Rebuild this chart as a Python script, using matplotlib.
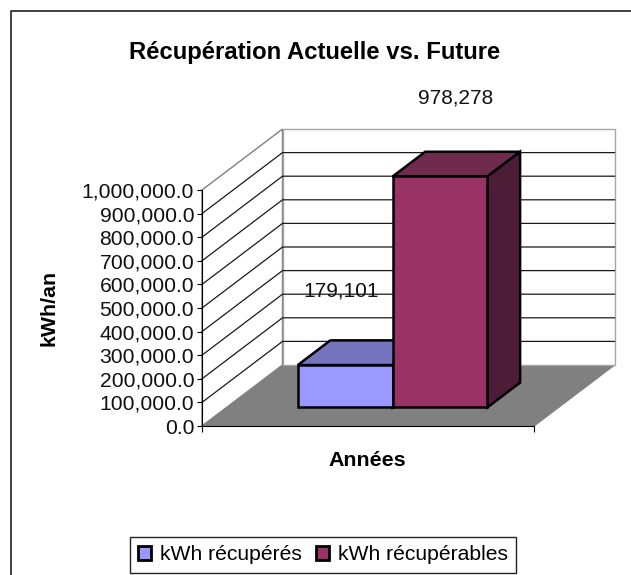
import matplotlib
matplotlib.use("Agg")
import matplotlib.pyplot as plt
from matplotlib.lines import Line2D
from matplotlib.patches import Polygon, Rectangle

plt.rcParams["font.family"] = ["Liberation Sans", "DejaVu Sans"]

# valeurs
series_names = ["kWh récupérés", "kWh récupérables"]
series_values = [179101, 978278]
value_labels = ["179,101", "978,278"]
y_ticks = [0, 100000, 200000, 300000, 400000, 500000, 600000, 700000, 800000, 900000, 1000000]

face_colors = ["#9999FF", "#993366"]
top_colors = ["#7575BF", "#702A4E"]
side_colors = ["#5A5A99", "#4D1C36"]

W, H = 631, 575
YMAX = 1000000
# projection oblique : decalage par unite de profondeur (axes x / valeurs)
DX = 80.5 / 332
DY = 61 / 236 * YMAX
BAR_W = 0.2857
D0, D1 = 0.306, 0.711

fig = plt.figure(figsize=(W / 100, H / 100), dpi=100)
ax = fig.add_axes([202 / W, 1 - 426 / H, 332 / W, 236 / H])
ax.set_xlim(0, 1)
ax.set_ylim(0, YMAX)
ax.patch.set_visible(False)


def proj(x, v, d=0):
    return (x + d * DX, v + d * DY)


def poly(points, **kw):
    ax.add_patch(Polygon(points, closed=True, clip_on=False, **kw))


# cadre exterieur (haut et gauche seulement)
fig.add_artist(Line2D([10.5 / W, 10.5 / W, 1], [0, 1 - 11 / H, 1 - 11 / H], color="#222222", lw=1.2, zorder=-1))

# plancher et murs
poly([proj(0, 0), proj(1, 0), proj(1, 0, 1), proj(0, 0, 1)], fc="#808080", ec="#808080", lw=1, zorder=1)
poly([proj(0, 0), proj(0, YMAX), proj(0, YMAX, 1), proj(0, 0, 1)], fc="white", ec="#808080", lw=1, zorder=1)
poly([proj(0, 0, 1), proj(0, YMAX, 1), proj(1, YMAX, 1), proj(1, 0, 1)], fc="white", ec="#A6A6A6", lw=1, zorder=1)

# lignes de grille
for v in y_ticks[1:-1]:
    pts = [proj(0, v), proj(0, v, 1), proj(1, v, 1)]
    ax.plot(*zip(*pts), color="#1A1A1A", lw=0.9, clip_on=False, zorder=2)

# barres
for i, val in enumerate(series_values):
    x0 = 0.5 - BAR_W + i * BAR_W
    x1 = x0 + BAR_W
    kw = dict(ec="black", lw=1.8, joinstyle="miter", zorder=3 + i)
    poly([proj(x0, val, D0), proj(x1, val, D0), proj(x1, val, D1), proj(x0, val, D1)], fc=top_colors[i], **kw)
    poly([proj(x1, 0, D0), proj(x1, val, D0), proj(x1, val, D1), proj(x1, 0, D1)], fc=side_colors[i], **kw)
    poly([proj(x0, 0, D0), proj(x1, 0, D0), proj(x1, val, D0), proj(x0, val, D0)], fc=face_colors[i], **kw)

# axes
for s in ["top", "right"]:
    ax.spines[s].set_visible(False)
ax.spines["left"].set_color("black")
ax.spines["bottom"].set_color("black")
ax.spines["left"].set_zorder(2)
ax.spines["bottom"].set_zorder(2)
ax.set_yticks(y_ticks)
ax.set_yticklabels([f"{v:,.1f}" for v in y_ticks], fontsize=15.2, color="#111111")
ax.set_xticks([0, 1])
ax.set_xticklabels([])
ax.tick_params(axis="y", length=3.6, width=0.8, pad=2)
ax.tick_params(axis="x", length=4, width=0.8)

# textes
fig.text(315 / W, 1 - 52 / H, "Récupération Actuelle vs. Future", fontsize=17.2, fontweight="bold",
         ha="center", va="center")
fig.text(49 / W, 1 - 307.5 / H, "kWh/an", fontsize=15.4, fontweight="bold", rotation=90, ha="center", va="center")
fig.text(367.5 / W, 1 - 461 / H, "Années", fontsize=15.4, fontweight="bold", ha="center", va="center")
fig.text(341.5 / W, 1 - 291 / H, value_labels[0], fontsize=15, ha="center", va="center", color="#111111")
fig.text(456 / W, 1 - 98 / H, value_labels[1], fontsize=15, ha="center", va="center", color="#111111")

# legende
handles = [Rectangle((0, 0), 1, 1, fc=c, ec="black", lw=2) for c in face_colors]
fig.legend(handles, series_names, loc="center", bbox_to_anchor=(323 / W, 1 - 555 / H), ncol=2,
           fontsize=15.2, frameon=True, fancybox=False, framealpha=1, edgecolor="#222222",
           handlelength=0.62, handleheight=0.62, handletextpad=0.4, columnspacing=0.7,
           borderpad=0.38, borderaxespad=0)

fig.savefig("out.png", dpi=100)
